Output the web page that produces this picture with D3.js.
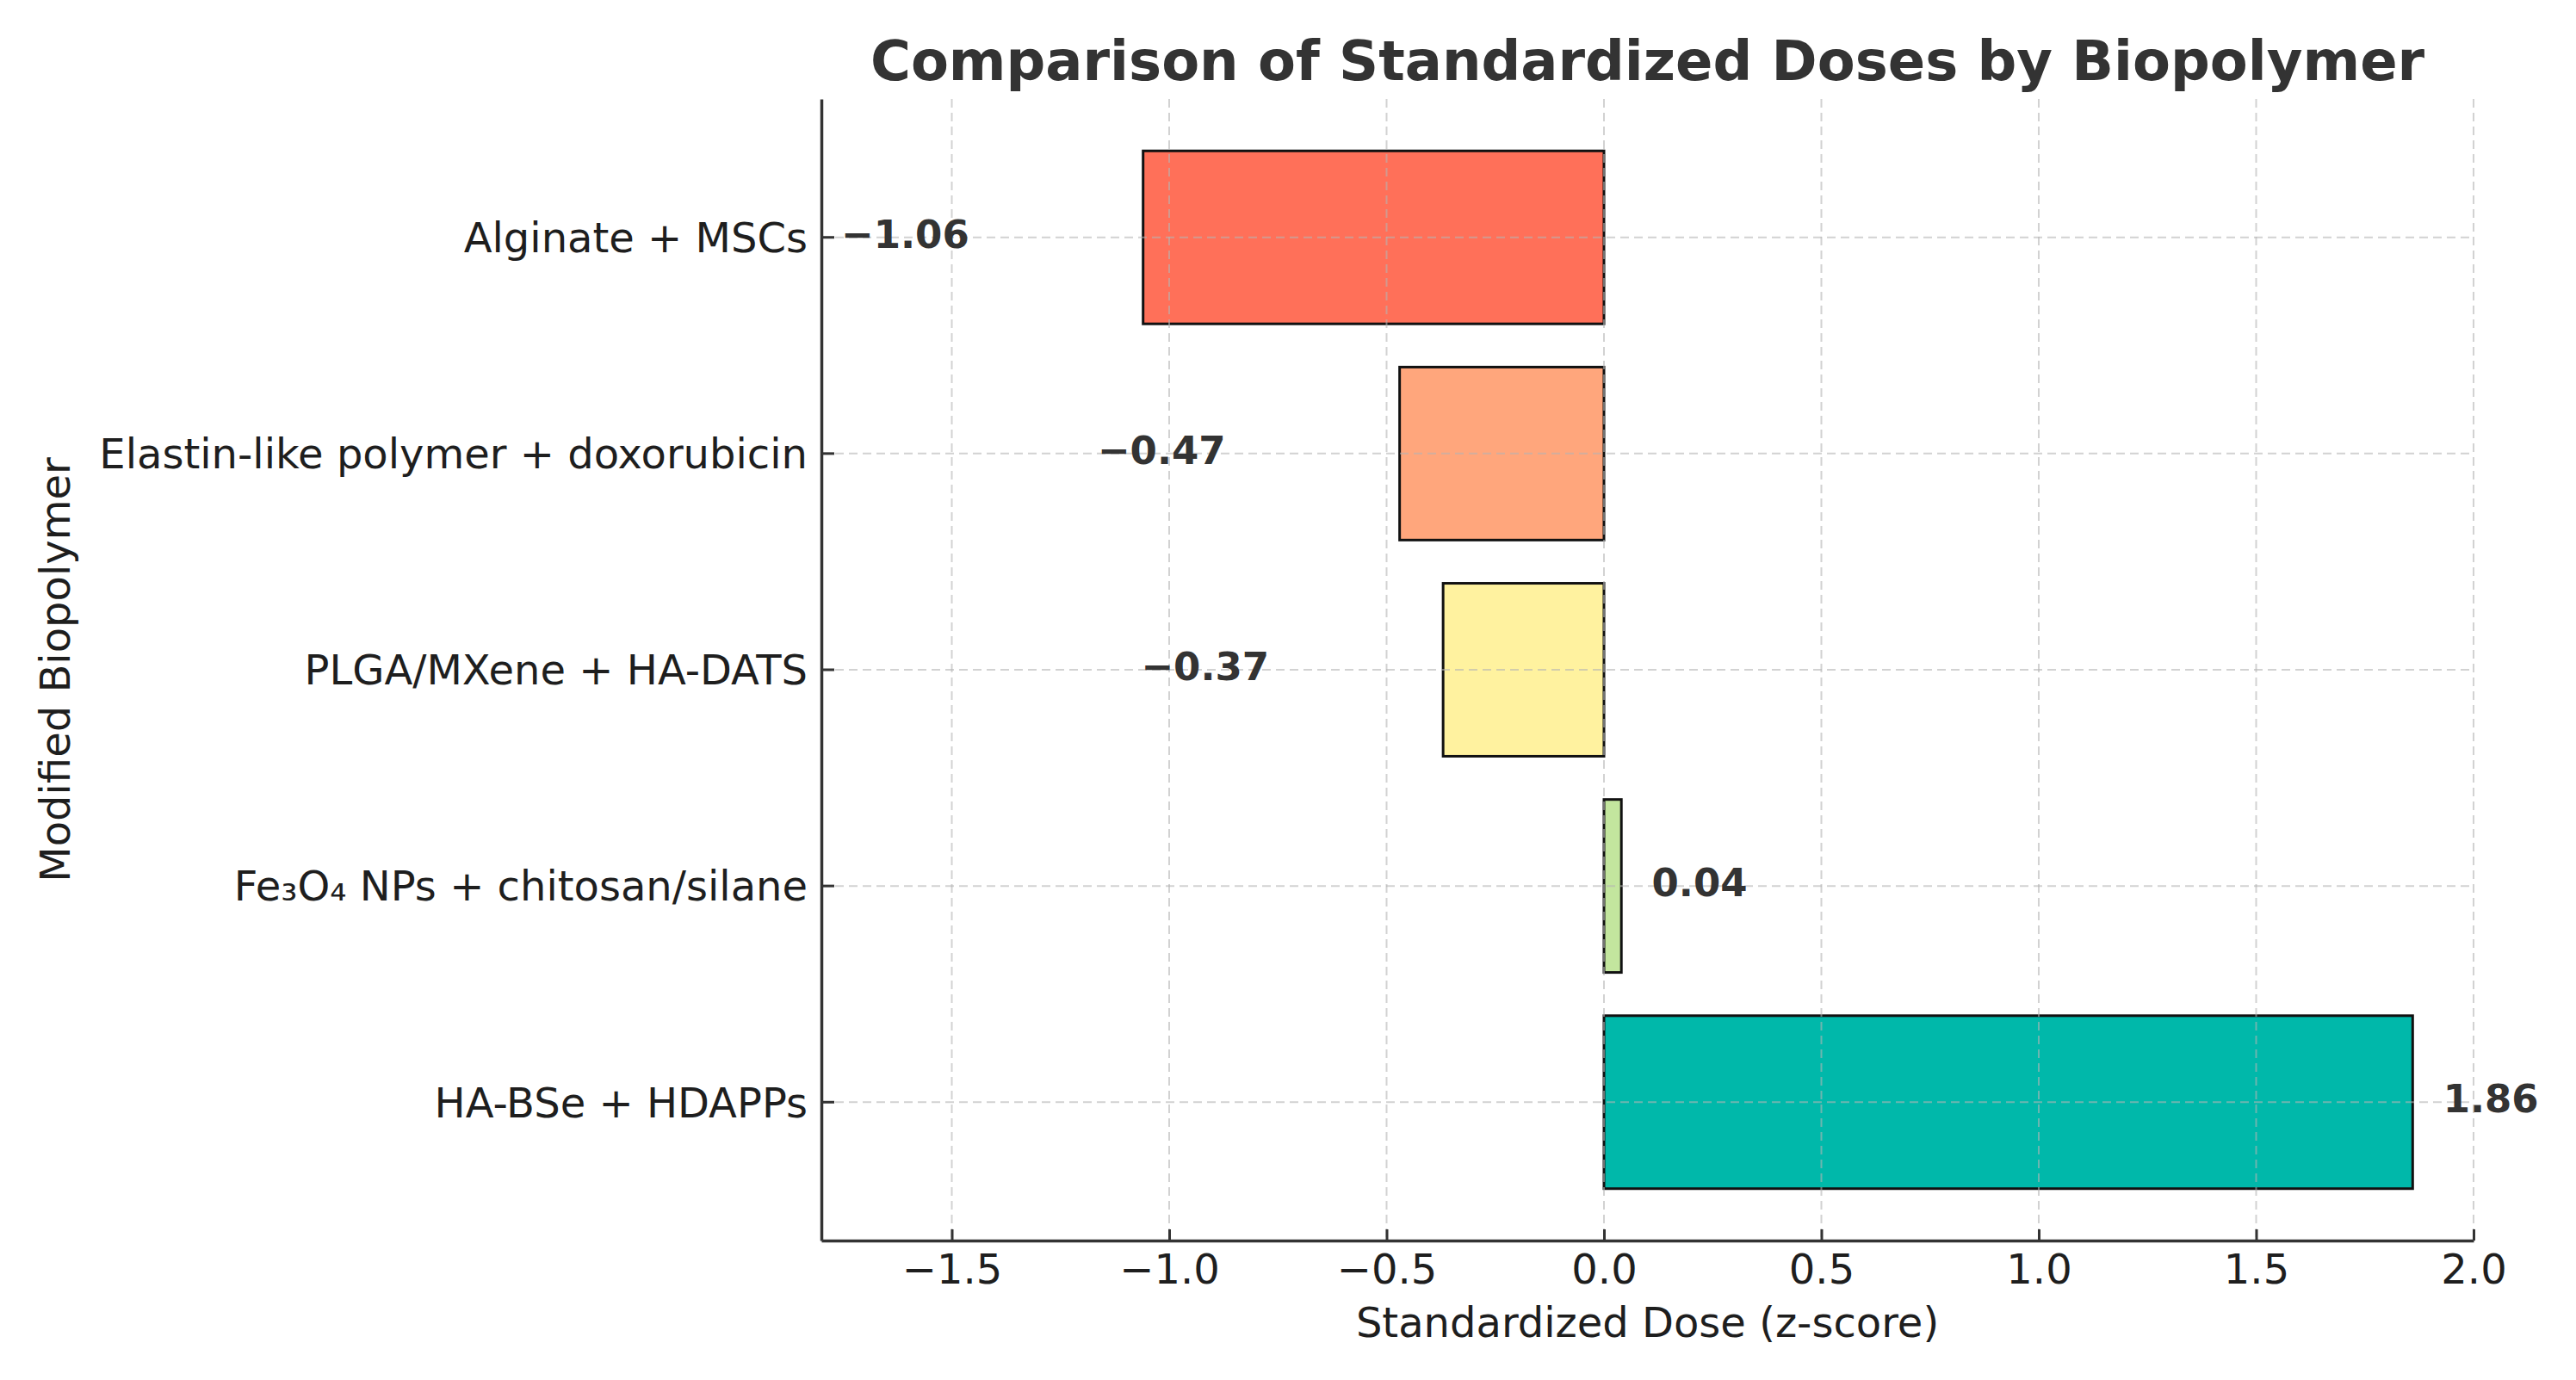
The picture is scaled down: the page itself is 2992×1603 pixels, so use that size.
<!DOCTYPE html>
<html>
<head>
<meta charset="utf-8">
<script src="https://cdn.jsdelivr.net/npm/d3@7"></script>
<style>
  body { margin: 0; background: #fff; }
  svg { display: block; font-family: "DejaVu Sans", sans-serif; }
</style>
</head>
<body>
<svg id="chart" width="2992" height="1603"></svg>
<script>
// Data ------------------------------------------
var categories = [
  "Alginate + MSCs",
  "Elastin-like polymer + doxorubicin",
  "PLGA/MXene + HA-DATS",
  "Fe₃O₄ NPs + chitosan/silane",
  "HA-BSe + HDAPPs"
];
var doses = [-1.06, -0.47, -0.37, 0.04, 1.86];
var barColors = ["#ff7059", "#ffa67c", "#fff29f", "#c3e69e", "#00b8aa"];
var xTicks = [-1.5, -1.0, -0.5, 0.0, 0.5, 1.0, 1.5, 2.0];

// Layout ----------------------------------------
var svg = d3.select("#chart");
var plotL = 954, plotR = 2873, plotT = 115, plotB = 1441;

var x = d3.scaleLinear()
    .domain([-1.8, 2.0])
    .range([plotL, plotR]);

var y = d3.scaleBand()
    .domain(categories)
    .range([plotT, plotB])
    .paddingInner(0.2)
    .paddingOuter(0.24);

var fmtTick = d3.format(".1f");
var fmtVal = d3.format(".2f");

// Bars ------------------------------------------
svg.selectAll("rect.bar")
    .data(doses)
    .enter()
    .append("rect")
    .attr("class", "bar")
    .attr("x", function(d) { return x(Math.min(0, d)); })
    .attr("y", function(d, i) { return y(categories[i]); })
    .attr("width", function(d) { return Math.abs(x(d) - x(0)); })
    .attr("height", y.bandwidth())
    .attr("fill", function(d, i) { return barColors[i]; })
    .attr("stroke", "#111")
    .attr("stroke-width", 3);

// Grid (drawn over bars, faint) -----------------
var grid = svg.append("g").attr("stroke", "#b4b4b4")
    .attr("stroke-opacity", 0.6)
    .attr("stroke-width", 2)
    .attr("stroke-dasharray", "10,6");

grid.selectAll("line.vx")
    .data(xTicks)
    .enter()
    .append("line")
    .attr("x1", function(d) { return x(d); })
    .attr("x2", function(d) { return x(d); })
    .attr("y1", plotT)
    .attr("y2", plotB);

grid.selectAll("line.hy")
    .data(categories)
    .enter()
    .append("line")
    .attr("x1", plotL)
    .attr("x2", plotR)
    .attr("y1", function(d) { return y(d) + y.bandwidth() / 2; })
    .attr("y2", function(d) { return y(d) + y.bandwidth() / 2; });

// Axes ------------------------------------------
var xAxis = svg.append("g")
    .attr("transform", "translate(0," + plotB + ")")
    .call(d3.axisBottom(x)
      .tickValues(xTicks)
      .tickFormat(fmtTick)
      .tickSizeInner(-13)
      .tickSizeOuter(0)
      .tickPadding(16));

var yAxis = svg.append("g")
    .attr("transform", "translate(" + plotL + ",0)")
    .call(d3.axisLeft(y)
      .tickSizeInner(-15)
      .tickSizeOuter(0)
      .tickPadding(16));

[xAxis, yAxis].forEach(function(g) {
  g.select(".domain").attr("stroke", "#333").attr("stroke-width", 3.5);
  g.selectAll(".tick line").attr("stroke", "#333").attr("stroke-width", 3);
  g.selectAll(".tick text")
      .attr("fill", "#1e1e1e")
      .style("font-size", "48px")
      .style("font-family", "'DejaVu Sans', sans-serif");
});
yAxis.selectAll(".tick text").attr("dy", "0.36em");

// Value labels ----------------------------------
svg.selectAll("text.val")
    .data(doses)
    .enter()
    .append("text")
    .attr("class", "val")
    .attr("x", function(d) { return d < 0 ? x(d - 0.4) : x(d + 0.07); })
    .attr("y", function(d, i) { return y(categories[i]) + y.bandwidth() / 2 + 12; })
    .attr("text-anchor", function(d) { return d < 0 ? "end" : "start"; })
    .attr("fill", "#333")
    .style("font-size", "45px")
    .style("font-weight", "bold")
    .text(function(d) { return fmtVal(d); });

// Titles ----------------------------------------
svg.append("text")
    .attr("x", (plotL + plotR) / 2)
    .attr("y", 93)
    .attr("text-anchor", "middle")
    .attr("fill", "#333")
    .style("font-size", "64px")
    .style("font-weight", "bold")
    .text("Comparison of Standardized Doses by Biopolymer");

svg.append("text")
    .attr("x", (plotL + plotR) / 2)
    .attr("y", 1553)
    .attr("text-anchor", "middle")
    .attr("fill", "#1e1e1e")
    .style("font-size", "48px")
    .text("Standardized Dose (z-score)");

svg.append("text")
    .attr("transform", "translate(81," + (plotT + plotB) / 2 + ") rotate(-90)")
    .attr("text-anchor", "middle")
    .attr("fill", "#1e1e1e")
    .style("font-size", "48px")
    .text("Modified Biopolymer");
</script>
</body>
</html>
